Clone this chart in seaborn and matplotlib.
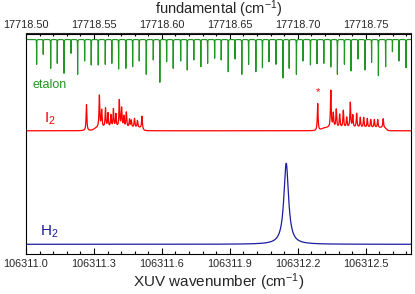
import numpy as np
import pandas as pd
import matplotlib
matplotlib.use("Agg")
import matplotlib.pyplot as plt
from matplotlib.ticker import FixedLocator, FormatStrFormatter
import seaborn as sns

# XUV wavenumber scale, positions given relative to X0 (cm-1)
X0 = 106311.0
HARMONIC = 6  # fundamental = XUV / 6

# etalon fringes (dips)
etalon_pos = [0.047, 0.076, 0.109, 0.138, 0.168, 0.199, 0.228, 0.259, 0.288, 0.319,
              0.350, 0.379, 0.409, 0.441, 0.471, 0.500, 0.531, 0.562, 0.591, 0.621,
              0.650, 0.683, 0.712, 0.741, 0.772, 0.802, 0.833, 0.862, 0.893, 0.923,
              0.953, 0.983, 1.015, 1.044, 1.073, 1.104, 1.135, 1.162, 1.194, 1.223,
              1.256, 1.285, 1.315, 1.346, 1.375, 1.406, 1.435, 1.466, 1.497, 1.526,
              1.556, 1.588, 1.618, 1.647, 1.678]
etalon_depth = [24.8, 14.8, 28.8, 23.8, 33.8, 13.8, 34.8, 21.5, 25.5, 25.5,
                24.8, 23.8, 29.5, 28.8, 27.2, 21.5, 34.8, 20.5, 42.8, 22.2,
                28.8, 21.5, 30.5, 20.5, 27.2, 23.8, 18.8, 20.5, 32.2, 19.5,
                34.8, 24.8, 32.2, 28.2, 22.2, 24.8, 38.5, 28.8, 34.8, 21.5,
                25.5, 24.2, 23.8, 27.5, 34.8, 24.8, 31.5, 19.5, 30.5, 22.8,
                36.2, 27.2, 12.2, 21.5, 28.2]

# I2 absorption lines
i2_pos = [0.267, 0.324, 0.334, 0.351, 0.362, 0.375, 0.386, 0.397, 0.412, 0.422,
          0.432, 0.443, 0.457, 0.465, 0.479, 0.492, 0.512,
          1.288, 1.346, 1.357, 1.370, 1.385, 1.401, 1.416, 1.432, 1.443,
          1.460, 1.476, 1.491, 1.507, 1.522, 1.538, 1.553, 1.577]
i2_height = [26, 32, 17, 19, 14, 12, 18, 13, 27, 19,
             11, 15, 8, 7, 9, 7, 12,
             27, 37, 14, 18, 13, 17, 10, 25, 12,
             14, 10, 10, 9, 8, 8, 8, 9]
i2_pedestal_start = [0.300, 1.305]
i2_pedestal_end = [0.516, 1.592]
i2_pedestal_height = [3.0, 3.0]

# H2 resonance
h2_pos = 1.149
h2_height = 81.0
h2_hwhm = 0.0124

xuv_ticks = [106311.0, 106311.3, 106311.6, 106311.9, 106312.2, 106312.5]
fund_ticks = [17718.50, 17718.55, 17718.60, 17718.65, 17718.70, 17718.75]


def lorentz(x, x0, g):
    return g ** 2 / ((x - x0) ** 2 + g ** 2)


x = np.linspace(0.0, 1.7, 34001)

etalon = np.zeros_like(x)
for p, d in zip(etalon_pos, etalon_depth):
    etalon -= d * lorentz(x, p, 0.0004)

i2 = np.zeros_like(x)
for p, h in zip(i2_pos, i2_height):
    i2 += h * lorentz(x, p, 0.002)
for a, b, h in zip(i2_pedestal_start, i2_pedestal_end, i2_pedestal_height):
    i2 += h * 0.5 * (np.tanh((x - a) / 0.012) - np.tanh((x - b) / 0.006))

h2 = h2_height * lorentz(x, h2_pos, h2_hwhm)

# vertical offsets of the stacked traces
df = pd.DataFrame({
    "xuv": x + X0,
    "etalon": etalon + 214.5,
    "i2": i2 + 123.2,
    "h2": h2 + 9.7,
})

sns.set_theme(style="ticks")
plt.rcParams["font.family"] = ["Liberation Sans", "DejaVu Sans"]
plt.rcParams["mathtext.fontset"] = "custom"
plt.rcParams["mathtext.rm"] = "Liberation Sans"
plt.rcParams["mathtext.it"] = "Liberation Sans:italic"
plt.rcParams["mathtext.default"] = "regular"

fig = plt.figure(figsize=(4.15, 2.94), dpi=100)
ax = fig.add_axes([26 / 415, 1 - 254 / 294, 385 / 415, 220.5 / 294])

sns.lineplot(data=df, x="xuv", y="etalon", ax=ax, color="#229622",
             linewidth=0.85, estimator=None, sort=False)
sns.lineplot(data=df, x="xuv", y="i2", ax=ax, color="#ff0000",
             linewidth=0.9, estimator=None, sort=False)
sns.lineplot(data=df, x="xuv", y="h2", ax=ax, color="#1c1ca0",
             linewidth=0.9, estimator=None, sort=False)

ax.set_xlim(X0, X0 + 1.7)
ax.set_ylim(0, 220.5)
ax.set_yticks([])
ax.set_ylabel("")
ax.set_xlabel("XUV wavenumber (cm$^{-1}$)", fontsize=11, labelpad=2)

ax.xaxis.set_major_locator(FixedLocator(xuv_ticks))
ax.xaxis.set_minor_locator(FixedLocator([X0 + 0.06 * k for k in range(29)]))
ax.xaxis.set_major_formatter(FormatStrFormatter("%.1f"))
ax.tick_params(axis="x", which="both", direction="in", top=False,
               labelsize=7.8, width=0.8, color="black", pad=3.5)
ax.tick_params(axis="x", which="major", length=4.5)
ax.tick_params(axis="x", which="minor", length=2.2)
for s in ax.spines.values():
    s.set_visible(True)
    s.set_linewidth(0.8)
    s.set_color("black")

sec = ax.secondary_xaxis("top", functions=(lambda v: v / HARMONIC, lambda v: v * HARMONIC))
sec.xaxis.set_major_locator(FixedLocator(fund_ticks))
sec.xaxis.set_minor_locator(FixedLocator([17718.50 + 0.01 * k for k in range(29)]))
sec.xaxis.set_major_formatter(FormatStrFormatter("%.2f"))
sec.tick_params(axis="x", which="both", direction="in", labelsize=7.8,
                width=0.8, color="black", pad=2.5)
sec.tick_params(axis="x", which="major", length=4.5)
sec.tick_params(axis="x", which="minor", length=2.2)
sec.spines["top"].set_linewidth(0.8)
sec.set_xlabel("fundamental (cm$^{-1}$)", fontsize=10.5, labelpad=4)

ax.text(0.0156, 0.766, "etalon", transform=ax.transAxes, color="#229622",
        fontsize=9, ha="left", va="center")
ax.text(0.0468, 0.597, "I$_2$", transform=ax.transAxes, color="#ff0000",
        fontsize=11, ha="left", va="baseline")
ax.text(0.036, 0.084, "H$_2$", transform=ax.transAxes, color="#1c1ca0",
        fontsize=11, ha="left", va="baseline")
ax.text(X0 + i2_pos[17], 161.5, "*", color="#ff0000", fontsize=8,
        ha="center", va="center")

fig.savefig("out.png", dpi=100)
